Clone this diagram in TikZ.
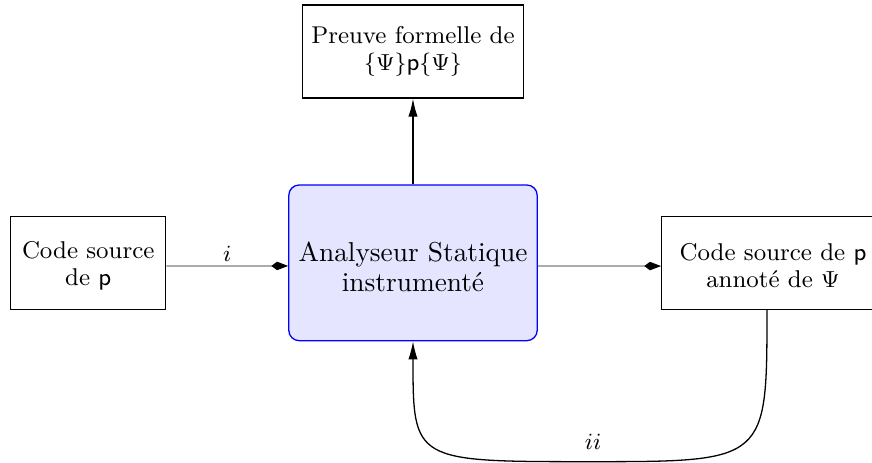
\documentclass[tikz,border=0pt]{standalone}
\usetikzlibrary{arrows.meta, positioning, calc}
\usepackage{amsmath}
\usepackage[dvipsnames]{xcolor}

\newcommand{\calage}[1]{\rule{0pt}{#1}}

\begin{document}
\begin{tikzpicture}[
  font=\fontsize{9.4}{10.3}\selectfont,
  boite/.style={draw=black, line width=0.5pt, align=center, fill=white,
                minimum width=2.112cm, minimum height=1.262cm},
  analyseur/.style={draw=blue, fill=blue!10, line width=0.5pt, rounded corners=4pt,
                    align=center, font=\fontsize{10.6}{11.9}\selectfont,
                    minimum width=3.384cm, minimum height=2.121cm},
  passage/.style={draw=black!50, line width=0.5pt,
                  -{Kite[length=6.5pt, width=3.3pt, inset=2.2pt, fill=black, color=black]}},
  retour/.style={draw=black, line width=0.5pt, -{Latex[length=7pt, width=3.6pt]}}
]

% ---- cadre de l'image ------------------------------------------------
\useasboundingbox (0,0) rectangle (11.881,-6.308);

% ---- les boites ------------------------------------------------------
\node[analyseur] (asi) at (5.627,-3.581) {\calage{10.6pt}Analyseur Statique\\ instrumenté};
\node[boite] (src) at (1.202,-3.583) {\calage{8.8pt}Code source\\ de \textsf{p}};
\node[boite, minimum width=3.033cm] (ann) at (10.532,-3.583)
  {\calage{8.8pt}Code source de \textsf{p}\\ annoté de $\Psi$};
\node[boite, minimum width=3.011cm, minimum height=1.267cm] (pf) at (5.627,-0.702)
  {Preuve formelle de\\ $\{\Psi\}$\textsf{p}$\{\Psi\}$};
\coordinate (bas) at (8.039,-6.29);

% ---- les liens -------------------------------------------------------
\draw[passage] ([yshift=-1.2pt]src.east) -- node[above, inner sep=1.5pt] {$i$} ([yshift=-1.2pt]asi.west);
\draw[passage] ([yshift=-1.2pt]asi.east) -- ([yshift=-1.2pt]ann.west);
\draw[retour] (asi.north) -- (pf.south);
\draw[retour] ([xshift=-0.082cm]ann.south)
  .. controls ([xshift=-0.082cm]ann.south |- bas) and ([xshift=-0.082cm]ann.south |- bas) .. (bas)
  .. controls (asi.south |- bas) and (asi.south |- bas) .. (asi.south);
\node[above, xshift=1.2pt, yshift=1pt] (etiq) at (bas) {$ii$};

\end{tikzpicture}
\end{document}
